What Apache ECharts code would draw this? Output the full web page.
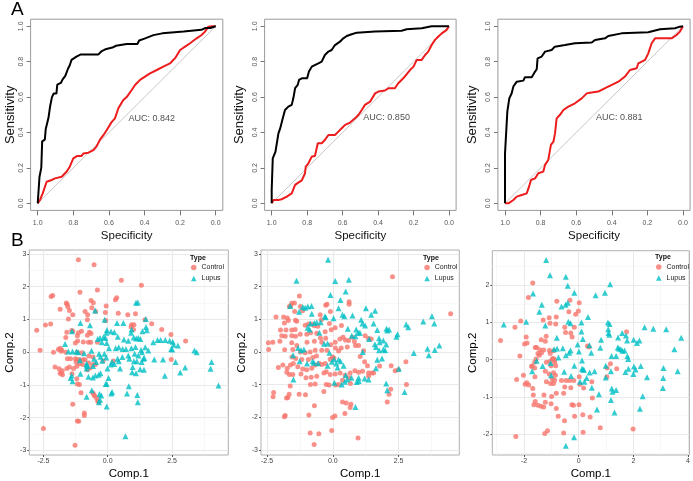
<!DOCTYPE html>
<html><head><meta charset="utf-8">
<script src="https://cdn.jsdelivr.net/npm/echarts@6/dist/echarts.min.js"></script>
<style>html,body{margin:0;padding:0;background:#fff}#c{width:693px;height:481px}</style>
</head><body><div id="c"></div>
<script>
// ---------------- DATA ----------------
const rocTicks = [0, 0.2, 0.4, 0.6, 0.8, 1.0];
const aucLabels = ['AUC: 0.842', 'AUC: 0.850', 'AUC: 0.881'];
const aucAnchor = [[0.49, 0.48], [0.483, 0.485], [0.489, 0.485]];
const chanceLine = [[1, 0], [0, 1]];

// ROC curves: [specificity, sensitivity]
const rocA1Black = [[1,0],[0.995,0.01],[0.99,0.15],[0.98,0.2],[0.975,0.35],[0.96,0.36],[0.955,0.42],[0.94,0.48],[0.93,0.55],[0.92,0.6],[0.91,0.62],[0.895,0.62],[0.89,0.67],[0.87,0.68],[0.86,0.7],[0.845,0.72],[0.83,0.76],[0.82,0.78],[0.81,0.81],[0.795,0.82],[0.78,0.83],[0.76,0.84],[0.66,0.84],[0.64,0.86],[0.62,0.87],[0.58,0.88],[0.56,0.89],[0.5,0.9],[0.44,0.9],[0.43,0.92],[0.4,0.93],[0.35,0.95],[0.3,0.96],[0.18,0.97],[0.18,0.98],[0.08,0.98],[0.06,0.99],[0.03,0.99],[0.02,1],[0,1]];
const rocA1Red = [[1,0],[0.987,0.019],[0.972,0.056],[0.95,0.122],[0.921,0.132],[0.903,0.141],[0.865,0.15],[0.837,0.18],[0.82,0.207],[0.8,0.254],[0.78,0.267],[0.753,0.267],[0.744,0.282],[0.715,0.286],[0.687,0.3],[0.67,0.32],[0.65,0.36],[0.63,0.386],[0.612,0.414],[0.584,0.46],[0.566,0.48],[0.547,0.537],[0.519,0.584],[0.5,0.6],[0.472,0.64],[0.453,0.668],[0.425,0.697],[0.397,0.716],[0.369,0.734],[0.331,0.753],[0.294,0.772],[0.257,0.79],[0.228,0.82],[0.2,0.866],[0.172,0.885],[0.144,0.904],[0.107,0.932],[0.079,0.951],[0.06,0.97],[0.041,0.998],[0.022,1],[0,1]];
const rocA2Black = [[1,0],[1,0.075],[0.994,0.254],[0.985,0.265],[0.979,0.29],[0.962,0.395],[0.953,0.42],[0.94,0.47],[0.925,0.527],[0.906,0.546],[0.887,0.556],[0.878,0.593],[0.868,0.65],[0.853,0.669],[0.846,0.697],[0.83,0.706],[0.8,0.706],[0.79,0.744],[0.774,0.772],[0.765,0.78],[0.737,0.79],[0.718,0.8],[0.7,0.838],[0.68,0.857],[0.662,0.866],[0.643,0.894],[0.615,0.913],[0.596,0.932],[0.577,0.945],[0.549,0.955],[0.52,0.964],[0.417,0.97],[0.267,0.975],[0.239,0.983],[0.154,0.989],[0.098,1],[0,1]];
const rocA2Red = [[1,0],[0.99,0.019],[0.962,0.019],[0.944,0.023],[0.915,0.038],[0.887,0.056],[0.868,0.104],[0.85,0.117],[0.83,0.13],[0.812,0.17],[0.808,0.207],[0.793,0.226],[0.774,0.264],[0.756,0.267],[0.74,0.339],[0.718,0.339],[0.7,0.358],[0.68,0.386],[0.643,0.386],[0.624,0.405],[0.605,0.424],[0.586,0.443],[0.558,0.456],[0.53,0.48],[0.51,0.5],[0.492,0.527],[0.474,0.556],[0.445,0.574],[0.417,0.621],[0.398,0.631],[0.361,0.637],[0.342,0.65],[0.305,0.65],[0.286,0.678],[0.258,0.706],[0.22,0.753],[0.2,0.772],[0.182,0.81],[0.154,0.81],[0.135,0.838],[0.117,0.857],[0.098,0.894],[0.079,0.923],[0.06,0.942],[0.041,0.96],[0.013,0.98],[0,1]];
const rocA3Black = [[1,0],[1,0.282],[0.991,0.282],[0.987,0.518],[0.978,0.525],[0.976,0.593],[0.966,0.6],[0.963,0.62],[0.953,0.66],[0.944,0.668],[0.934,0.687],[0.897,0.693],[0.888,0.712],[0.85,0.712],[0.835,0.738],[0.822,0.757],[0.817,0.819],[0.794,0.829],[0.775,0.857],[0.738,0.866],[0.72,0.885],[0.663,0.894],[0.607,0.904],[0.513,0.908],[0.494,0.923],[0.438,0.932],[0.42,0.945],[0.345,0.96],[0.195,0.966],[0.129,0.983],[0.045,0.989],[0.017,0.998],[0,1]];
const rocA3Red = [[1,0],[0.981,0],[0.953,0.019],[0.934,0.038],[0.906,0.047],[0.878,0.056],[0.865,0.094],[0.854,0.132],[0.831,0.141],[0.813,0.17],[0.785,0.179],[0.775,0.217],[0.757,0.245],[0.742,0.33],[0.728,0.348],[0.719,0.395],[0.71,0.48],[0.691,0.5],[0.672,0.527],[0.644,0.546],[0.607,0.565],[0.569,0.593],[0.541,0.621],[0.522,0.625],[0.476,0.631],[0.429,0.655],[0.4,0.669],[0.363,0.687],[0.326,0.716],[0.298,0.753],[0.26,0.763],[0.251,0.791],[0.213,0.81],[0.195,0.847],[0.176,0.904],[0.157,0.932],[0.064,0.932],[0.036,0.951],[0.017,0.97],[0,1]];

// PCA scores: [Comp.1, Comp.2]
const b1Control = [[-1.14,2.82],[-0.53,2.67],[0.53,2.2],[1.31,2.04],[-0.4,1.9],[-1.08,1.83],[-2.14,1.73],[-2.2,1.7],[0.35,1.66],[0.3,1.6],[-0.65,1.58],[-0.56,1.51],[-1.61,1.5],[-1.58,1.46],[-1.55,1.39],[-0.06,1.41],[-0.62,1.36],[-1.85,1.31],[-1.49,1.27],[-0.88,1.24],[-0.47,1.24],[-0.09,1.21],[0.41,1.19],[0.78,1.14],[1.08,1.17],[-1.36,1.14],[-0.78,1.14],[-1.53,1.01],[-0.79,0.99],[1.45,0.99],[1.71,0.87],[-2.76,0.67],[-2.42,0.83],[-2.22,0.86],[-0.08,0.97],[0.93,0.84],[0.91,0.77],[1.02,0.84],[1.0,0.69],[-1.02,0.64],[-1.36,0.64],[-1.4,0.66],[-1.59,0.61],[-1.14,0.59],[-0.65,0.57],[-0.71,0.61],[2.1,0.69],[2.46,0.54],[3.03,0.34],[-1.18,0.5],[-0.79,0.52],[-1.63,0.45],[-1.17,0.34],[-0.95,0.31],[-0.75,0.3],[-0.66,0.3],[-0.4,0.3],[-1.26,0.28],[-1.85,0.12],[-1.79,0.07],[-1.92,0.08],[-1.81,0.03],[-2.63,0.06],[-1.63,0],[-2.11,0],[-1.18,0],[-1.0,-0.02],[-1.57,-0.2],[-1.45,-0.2],[-1.26,-0.2],[-1.18,-0.22],[-1.08,-0.23],[-0.96,-0.23],[-0.88,-0.23],[-1.23,-0.3],[-1.1,-0.35],[-0.74,-0.33],[-0.97,-0.38],[-1.2,-0.43],[-1.49,-0.45],[-2.05,-0.45],[-1.89,-0.51],[-1.59,-0.5],[-1.33,-0.5],[-1.77,-0.57],[-1.81,-0.64],[-1.76,-0.69],[-1.85,-0.64],[-0.79,-0.54],[-0.69,-0.48],[-0.57,-0.38],[-0.48,-0.38],[0.22,-0.27],[-0.73,-0.12],[-0.57,-0.15],[-1.39,-0.66],[-1.2,-0.81],[-1.1,-0.99],[-1.18,-0.97],[-1.04,-1.24],[-0.58,-1.24],[-0.54,-1.29],[-0.51,-1.34],[-0.43,-1.41],[-0.39,-1.49],[-0.35,-1.53],[-1.36,-1.59],[-0.91,-1.86],[-0.91,-1.93],[-1.18,-2.1],[-1.13,-2.11],[-2.5,-2.33],[-1.27,-2.84],[2.47,-0.22],[-0.18,-0.26]];
const b1Lupus = [[-0.49,1.27],[1.1,1.51],[1.17,1.52],[1.48,1.01],[-1.06,0.89],[-0.69,0.82],[-0.12,0.99],[-1.39,0.64],[-1.66,0.25],[-1.37,0.02],[-1.22,0.02],[-1.53,0.02],[-1.44,-0.79],[-1.37,-0.89],[-1.4,-0.71],[-1.15,0],[-0.92,-0.03],[-0.63,0.04],[-1.08,-0.25],[-0.82,-0.35],[-0.82,-0.5],[-0.79,-0.42],[-0.53,-0.2],[-0.45,-0.3],[-0.39,0.4],[-0.3,0.43],[-0.16,0.46],[-0.09,0.43],[-0.05,0.59],[-0.03,0.68],[0.13,0.63],[0.26,0.61],[0.39,0.47],[0.63,0.39],[0.8,0.35],[1.01,0.45],[1.11,0.42],[1.19,0.43],[1.27,0.4],[1.35,0.64],[1.49,0.77],[1.52,0.67],[0.61,0.89],[0.36,0.89],[0.93,0.69],[0.91,0.59],[-0.23,0.3],[-0.04,0.28],[0.05,0.12],[0.31,0.12],[0.43,0.15],[0.58,0.1],[0.71,0.1],[0.92,0.12],[1.08,0.16],[1.3,0.07],[1.46,0.15],[1.77,0.3],[1.94,0.37],[2.06,0.37],[2.24,0.37],[2.41,0.35],[2.53,0.32],[2.56,0.23],[2.47,0.1],[2.51,0.08],[2.73,0.2],[1.81,-0.22],[2.15,-0.22],[2.64,-0.3],[3.01,-0.47],[3.37,0.05],[3.46,0],[4.04,-0.3],[4.0,-0.51],[4.31,-1.02],[2.22,-0.72],[2.82,-0.62],[0.8,-0.1],[0.84,-0.2],[0.57,-0.15],[0.38,-0.2],[0.17,-0.3],[0.25,-0.36],[-0.06,-0.16],[-0.13,-0.05],[-0.34,-0.05],[-0.28,-0.14],[-0.21,-0.26],[0.12,-0.38],[-0.01,-0.5],[-0.28,-0.64],[-0.35,-0.69],[-0.48,-0.71],[-0.57,-0.42],[-0.82,-0.4],[-1.06,-0.66],[-0.75,-0.75],[-0.58,-0.77],[-0.08,-0.97],[0.03,-0.79],[-0.04,-0.97],[-0.62,-1.16],[-0.32,-1.28],[-0.25,-1.32],[0.17,-1.22],[0.14,-1.26],[-0.34,-1.53],[-0.3,-1.45],[0.82,-1.04],[0.75,-1.26],[1.15,-1.31],[1.17,-1.53],[-0.82,-1.36],[-0.04,-1.66],[0.69,-2.57],[1.05,-0.05],[1.13,-0.28],[1.33,0],[1.32,-0.3],[1.39,-0.2],[1.41,-0.54],[1.26,-0.52],[1.1,-0.64],[0.97,-0.45],[0.95,-0.61],[1.19,-0.1],[1.58,0.05],[1.42,-0.18],[1.02,-0.28],[0.43,-0.28],[0.48,-0.5]];
const b2Control = [[2.27,2.3],[4.48,1.17],[-1.27,1.71],[-1.46,1.5],[-1.56,1.49],[-1.6,1.41],[-1.65,1.39],[-1.45,1.24],[-1.23,1.39],[-1.15,1.26],[-0.27,1.43],[-0.22,1.46],[-0.09,1.24],[0.62,1.54],[0.62,1.46],[-0.48,1.14],[-0.44,0.99],[-1.42,0.97],[-1.37,0.94],[-1.69,0.96],[-1.84,0.89],[-1.99,0.67],[-1.78,0.67],[-1.56,0.67],[-1.43,0.69],[-1.05,0.82],[-0.93,0.86],[-0.8,0.86],[-0.7,0.8],[-0.57,0.79],[-0.29,0.62],[-0.61,0.57],[-0.84,0.59],[-0.99,0.54],[-1.24,0.54],[-1.42,0.48],[-1.56,0.5],[-1.81,0.48],[-1.94,0.5],[-2.16,1.07],[-1.87,1.07],[-1.73,1.04],[-2.45,0.28],[-2.28,0.3],[-2.01,0.33],[-1.56,0.28],[-1.37,0.2],[-0.98,0.3],[-0.7,0.33],[-0.47,0.43],[-0.27,0.42],[-0.42,0.3],[-0.08,0.22],[0.09,0.3],[0.27,0.4],[0.39,0.45],[0.48,0.37],[0.6,0.35],[0.74,0.45],[0.82,0.32],[0.86,0.2],[0.55,0.15],[0.32,0.12],[0.22,0.03],[0.1,0.12],[-2.44,0.08],[-1.83,0.07],[-1.52,0.08],[-1.23,0],[-1.05,-0.02],[-0.86,0],[-0.67,0.05],[-0.42,0.05],[-0.22,0.05],[-0.01,-0.15],[0.04,-0.18],[-0.1,-0.22],[-0.29,-0.35],[-0.42,-0.38],[-0.52,-0.35],[-0.67,-0.4],[-0.8,-0.5],[-0.99,-0.54],[-1.14,-0.52],[-1.33,-0.45],[-1.5,-0.35],[-1.61,-0.4],[-1.73,-0.5],[-1.55,-0.15],[-1.41,-0.2],[-1.18,-0.23],[-0.93,-0.23],[-0.76,-0.17],[-0.62,-0.12],[-2.07,-0.47],[-1.9,-0.4],[-1.75,-0.62],[-1.65,-0.69],[-1.52,-0.69],[-1.21,-0.67],[-1.02,-0.79],[-0.82,-0.77],[-0.61,-0.74],[-0.34,-0.64],[-0.25,-0.6],[-0.1,-0.69],[0.09,-0.67],[0.28,-0.64],[0.47,-0.71],[0.66,-0.64],[0.84,-0.57],[0.98,-0.62],[1.13,-0.59],[1.36,-0.64],[1.55,-0.64],[1.78,-0.43],[2.22,-0.42],[2.37,-0.57],[2.49,-0.54],[2.78,-0.3],[2.8,-0.99],[2.2,-1.14],[2.14,-1.29],[2.07,-1.53],[0.62,-0.79],[0.67,-0.96],[0.37,-0.86],[0.23,-0.99],[0.11,-1.01],[-0.14,-1.01],[-0.25,-0.99],[-0.34,-1.21],[-0.67,-0.98],[-0.85,-0.99],[-1.04,-1.31],[-1.28,-1.29],[-1.62,-1.04],[-1.66,-1.29],[-2.25,-1.24],[-2.27,-1.37],[-1.76,-1.41],[-1.71,-1.39],[-1.81,-1.94],[-1.84,-1.98],[-0.91,-1.93],[0.37,-1.53],[0.51,-1.56],[0.69,-1.6],[0.66,-1.7],[0.46,-1.88],[0.08,-1.96],[-0.01,-2.0],[-0.04,-2.4],[-0.7,-1.64],[-0.53,-2.5],[-0.86,-2.48],[-0.71,-2.83],[0.96,-2.63],[1.36,-0.74],[1.48,-0.64],[1.32,-0.42],[1.21,-0.3],[1.04,-0.14],[1.17,0.04],[0.98,0.2],[1.36,0.41],[1.46,0.4],[1.23,0.5],[0.33,0.81],[0.09,0.74],[-0.06,0.68],[-0.13,0.87]];
const b2Lupus = [[-0.18,2.82],[-1.38,2.18],[0.61,2.21],[0.09,2.17],[0.49,1.85],[0.29,1.59],[-0.09,1.74],[0.22,1.34],[0.37,1.14],[0.44,1.09],[0.75,1.12],[1.08,0.99],[1.13,0.87],[1.46,1.14],[1.55,0.87],[1.61,1.26],[1.26,1.34],[0.89,0.69],[0.72,0.5],[0.86,0.48],[1.03,0.59],[1.23,0.81],[1.38,0.4],[1.69,0.67],[1.76,0.42],[2.04,0.71],[2.07,0.66],[2.14,0.69],[2.46,0.54],[2.42,0.47],[2.79,0.84],[2.87,0.76],[3.44,0.93],[3.77,1.09],[3.86,0.87],[3.08,-0.03],[3.6,0.1],[3.65,-0.1],[3.88,0.06],[4.05,0.2],[2.03,0.23],[1.64,0.15],[1.76,0.05],[1.92,0.08],[1.99,0.05],[1.87,-0.2],[1.69,-0.24],[1.64,-0.5],[2.07,-1.17],[2.03,-0.96],[2.51,-0.51],[2.73,-1.22],[0.86,-1.68],[0.34,-0.99],[0.46,-0.91],[0.55,-0.84],[0.06,-0.94],[0.13,-0.35],[0.18,-0.47],[0.41,-0.42],[0.29,-0.28],[0.05,-0.22],[0.22,-0.23],[-0.13,-0.02],[-0.04,-0.3],[-0.2,-0.42],[-0.72,-0.33],[-0.56,-0.34],[-1.5,-0.84],[-1.21,0.05],[-1.1,0.08],[-1.32,0.12],[-1.51,-0.1],[-1.62,1.41],[-1.28,1.23],[-1.14,1.38],[-0.95,1.39],[-0.81,1.41],[-1.05,1.35],[-0.8,1.17],[-0.46,0.91],[-0.61,0.91],[-0.27,1.06],[-0.3,1.09],[-0.88,0.69],[-0.33,0.25],[-0.2,0.26],[0.57,0.71],[0.03,1.03],[1.14,0],[1.6,0.24],[1.78,0.3],[1.92,0.35],[-0.98,-0.35],[-0.77,-0.28],[-1.26,-0.28],[0.98,-0.79],[0.91,-0.92],[0.71,-0.79],[0.99,-0.89],[1.21,-0.81],[1.36,-0.84],[0.49,-0.71],[-0.7,0.89],[-0.51,0.59],[-0.96,0.74],[-0.86,0.87],[0.96,0.59]];
const b3Control = [[-1.68,2.06],[-1.84,1.67],[-0.8,1.57],[-0.32,1.6],[0.02,1.53],[-0.01,1.31],[-0.11,1.22],[-0.36,1.29],[-2.12,1.04],[-2.33,0.87],[-1.3,1.07],[-1.08,1.13],[-0.82,1.15],[-1.05,0.98],[-0.84,0.96],[-0.51,0.87],[-0.16,0.87],[-0.48,0.73],[-0.24,0.61],[-1.19,0.63],[-1.22,0.5],[-2.86,0.52],[-1.98,0.42],[-1.59,0.33],[-1.54,0.33],[-1.42,0.27],[-1.28,0.26],[-1.07,0.25],[-0.92,0.24],[-1.36,0.19],[-1.49,0.17],[-1.44,0.12],[-1.04,0.17],[-0.93,0.03],[-0.88,0],[-0.97,0.02],[-0.88,-0.07],[-2.15,0.1],[-1.56,0.02],[-1.61,-0.07],[-1.71,-0.17],[-1.18,-0.07],[-1.05,-0.05],[-1.01,-0.16],[-0.84,-0.16],[-1.22,-0.31],[-1.08,-0.38],[-0.92,-0.35],[-0.85,-0.42],[-0.88,-0.55],[-0.97,-0.51],[-1.18,-0.59],[-1.03,-0.64],[-0.92,-0.64],[-1.61,-0.22],[-1.72,-0.18],[-2.02,-0.42],[-1.6,-0.46],[-1.9,-0.62],[-1.83,-0.68],[-1.96,-0.66],[-2.27,-0.53],[-0.18,-0.56],[0.02,-0.46],[-0.33,-0.56],[-0.46,-0.56],[-0.63,-0.56],[-1.68,-0.77],[-1.27,-0.95],[-0.99,-0.99],[-0.82,-0.9],[-0.55,-0.9],[-0.51,-0.73],[-0.29,-0.75],[0.04,-0.66],[0.18,-0.76],[0.48,-0.59],[-1.66,-0.95],[-1.59,-1.12],[-1.64,-1.21],[-1.49,-1.22],[-1.38,-1.25],[-1.28,-1.27],[-1.22,-1.14],[-1.01,-1.18],[-0.82,-1.31],[-0.25,-1.21],[-0.19,-1.22],[0.01,-1.21],[-0.75,-1.52],[-0.52,-1.64],[-0.15,-1.52],[0.15,-1.48],[0.42,-1.54],[0.5,-1.03],[0.79,-1.83],[1.04,-0.22],[1.16,-0.11],[1.03,-0.46],[1.39,-0.24],[1.75,0.75],[1.99,-1.86],[-2.3,-2.06],[-1.24,-1.98],[-1.14,-1.91],[-0.55,-1.97],[0.16,-1.95],[-0.29,0.72],[0.32,0.37],[0.38,0.34],[-1.37,0.54],[-1.92,0.61],[-1.89,0.45]];
const b3Lupus = [[-1.19,2.68],[-1.05,2.27],[-0.47,2.23],[-0.4,1.99],[-0.16,1.8],[1.15,2.03],[0.96,1.8],[0.62,1.73],[-1.67,1.78],[-1.35,1.48],[-1.44,1.29],[-0.63,1.43],[-0.48,1.48],[-0.4,1.53],[-0.38,1.02],[-0.3,0.98],[0.1,1.0],[0.34,1.15],[-2.74,0.95],[-1.92,1.02],[-1.22,0.92],[1.07,1.0],[1.13,0.96],[1.08,0.82],[1.09,0.72],[1.12,0.67],[1.44,0.6],[1.59,0.72],[1.73,0.65],[1.77,0.52],[2.01,0.54],[2.22,0.52],[2.41,0.87],[2.73,0.83],[3.2,0.82],[3.75,0.59],[3.5,0.28],[2.13,0.45],[1.43,0.33],[1.47,0.3],[1.54,0.28],[1.6,0.24],[1.68,0.25],[1.78,0.1],[1.81,0.02],[1.37,0.1],[1.2,0.1],[0.79,0.32],[0.82,0.54],[0.39,0.39],[0.46,0.19],[0.15,0.56],[-0.04,0.41],[-0.8,0.59],[-0.79,0.3],[-0.9,0.28],[-0.74,0.06],[-1.03,-0.09],[-1.32,-0.17],[-1.54,-0.03],[-1.7,-0.31],[0.12,-0.02],[0.12,-0.24],[0.16,-0.26],[0.19,-0.27],[0.4,-0.34],[0.58,-0.31],[0.99,-0.16],[0.99,-0.48],[1.18,-0.31],[1.21,-0.77],[1.24,-0.86],[1.37,-0.81],[1.71,-0.33],[1.82,-0.24],[2.02,-0.18],[2.08,-0.26],[2.0,-0.38],[2.27,-0.17],[2.5,-0.47],[2.34,-0.98],[2.24,-1.32],[3.1,-0.22],[3.09,-0.49],[3.08,-0.76],[3.62,-0.31],[-0.28,-0.44],[-0.53,-0.32],[-1.01,-0.42],[0.05,-0.59],[0.21,-0.59],[0.48,-0.75],[0.67,-1.34],[1.18,-1.08],[1.31,-1.42],[0.29,-0.49],[0.74,-0.93],[-0.17,-2.08],[-0.47,-2.31],[-0.47,0.12],[-0.3,0.25],[0.1,0.76],[0.01,0.22],[-0.35,0.19],[-0.16,-0.16],[-0.58,0.31]];

const pcaXTicks = [[-2.5, 0, 2.5], [-2.5, 0, 2.5], [-2, 0, 2, 4]];
const pcaYTicks = [[-3,-2,-1,0,1,2,3], [-3,-2,-1,0,1,2,3], [-2,-1,0,1,2]];
const pcaXMinor = [[-1.25, 1.25, 3.75], [-1.25, 1.25, 3.75], [-3, -1, 1, 3]];
const pcaYMinor = [[-2.5,-1.5,-0.5,0.5,1.5,2.5], [-2.5,-1.5,-0.5,0.5,1.5,2.5], [-2.5,-1.5,-0.5,0.5,1.5,2.5]];
const pcaXRange = [[-3.05, 4.69], [-2.73, 4.81], [-3.16, 4.05]];
const pcaYRange = [[-3.14, 3.12], [-3.15, 3.12], [-2.56, 2.93]];

// ---------------- LAYOUT / STYLE ----------------
const FONT = '"Liberation Sans", Arial, Helvetica, sans-serif';
const rocBoxes = [
  {left: 30.6, top: 19.2, width: 192.2, height: 191.2, yGap: 10},
  {left: 264.6, top: 19.2, width: 191.5, height: 191.2, yGap: 19},
  {left: 497.9, top: 19.2, width: 192.2, height: 191.2, yGap: 19}
];
const pcaBoxes = [
  {left: 29.3, top: 250, width: 199, height: 210.7, yGap: 11},
  {left: 261, top: 250, width: 198.3, height: 210.7, yGap: 12},
  {left: 492.3, top: 250.7, width: 198.4, height: 209.3, yGap: 10}
];
const legendPos = [[191, 264], [424.3, 264], [656, 263.5]];
const legendTitlePos = [[190, 254.5], [423, 254.5], [655, 253.5]];
const rocCurves = [[rocA1Black, rocA1Red], [rocA2Black, rocA2Red], [rocA3Black, rocA3Red]];
const pcaSets = [[b1Control, b1Lupus], [b2Control, b2Lupus], [b3Control, b3Lupus]];

const grid = [], xAxis = [], yAxis = [], series = [];

rocBoxes.forEach((b, i) => {
  grid.push({left: b.left, top: b.top, width: b.width, height: b.height, show: true,
    borderColor: '#9a9a9a', borderWidth: 1, backgroundColor: 'transparent', containLabel: false});
  xAxis.push({gridIndex: i, type: 'value', inverse: true, min: -0.04, max: 1.04, position: 'bottom',
    axisLine: {show: false, onZero: false}, splitLine: {show: false},
    axisTick: {show: true, customValues: rocTicks, length: 5, lineStyle: {color: '#777'}},
    axisLabel: {customValues: rocTicks, formatter: v => v.toFixed(1), fontSize: 7, color: '#555', margin: 9, fontFamily: FONT},
    name: 'Specificity', nameLocation: 'middle', nameGap: 19,
    nameTextStyle: {fontSize: 11.5, color: '#111', fontFamily: FONT}});
  yAxis.push({gridIndex: i, type: 'value', min: -0.04, max: 1.04, position: 'left',
    axisLine: {show: false, onZero: false}, splitLine: {show: false},
    axisTick: {show: true, customValues: rocTicks, length: 4, lineStyle: {color: '#777'}},
    axisLabel: {customValues: rocTicks, formatter: v => v.toFixed(1), fontSize: 7, color: '#555', margin: 6, rotate: 90, fontFamily: FONT},
    name: 'Sensitivity', nameLocation: 'middle', nameGap: b.yGap,
    nameTextStyle: {fontSize: 13, color: '#111', fontFamily: FONT}});
  series.push({type: 'line', xAxisIndex: i, yAxisIndex: i, data: chanceLine, symbol: 'none',
    lineStyle: {color: '#c9c9c9', width: 1}, z: 1, silent: true});
  series.push({type: 'line', xAxisIndex: i, yAxisIndex: i, data: rocCurves[i][1], symbol: 'none',
    lineStyle: {color: '#ee1c1c', width: 2}, z: 2, silent: true});
  series.push({type: 'line', xAxisIndex: i, yAxisIndex: i, data: rocCurves[i][0], symbol: 'none',
    lineStyle: {color: '#000', width: 2}, z: 3, silent: true});
  series.push({type: 'scatter', xAxisIndex: i, yAxisIndex: i, data: [aucAnchor[i]], symbolSize: 0, silent: true,
    label: {show: true, position: 'right', distance: 0, formatter: aucLabels[i], fontSize: 9, color: '#222', fontFamily: FONT}});
});

pcaBoxes.forEach((b, k) => {
  const i = k + 3;
  grid.push({left: b.left, top: b.top, width: b.width, height: b.height, show: true,
    borderColor: '#b0b0b0', borderWidth: 1, backgroundColor: '#fff'});
  xAxis.push({gridIndex: i, type: 'value', min: pcaXRange[k][0], max: pcaXRange[k][1], position: 'bottom',
    axisLine: {show: false, onZero: false}, splitLine: {show: false},
    axisTick: {show: true, customValues: pcaXTicks[k], length: 2, lineStyle: {color: '#555'}},
    axisLabel: {customValues: pcaXTicks[k], formatter: v => (k < 2 ? v.toFixed(1) : String(v)), fontSize: 7, color: '#444', margin: 3, fontFamily: FONT},
    name: 'Comp.1', nameLocation: 'middle', nameGap: 13,
    nameTextStyle: {fontSize: 11.5, color: '#000', fontFamily: FONT}});
  yAxis.push({gridIndex: i, type: 'value', min: pcaYRange[k][0], max: pcaYRange[k][1], position: 'left',
    axisLine: {show: false, onZero: false}, splitLine: {show: false},
    axisTick: {show: true, customValues: pcaYTicks[k], length: 2, lineStyle: {color: '#555'}},
    axisLabel: {customValues: pcaYTicks[k], fontSize: 7, color: '#444', margin: 3, fontFamily: FONT},
    name: 'Comp.2', nameLocation: 'middle', nameGap: b.yGap,
    nameTextStyle: {fontSize: 11.5, color: '#000', fontFamily: FONT}});
  const ml = [];
  pcaXMinor[k].forEach(v => ml.push({xAxis: v, lineStyle: {color: '#f4f4f4', width: 0.6}}));
  pcaYMinor[k].forEach(v => ml.push({yAxis: v, lineStyle: {color: '#f4f4f4', width: 0.6}}));
  pcaXTicks[k].forEach(v => ml.push({xAxis: v, lineStyle: {color: '#e9e9e9', width: 1}}));
  pcaYTicks[k].forEach(v => ml.push({yAxis: v, lineStyle: {color: '#e9e9e9', width: 1}}));
  series.push({type: 'scatter', name: 'grid' + k, xAxisIndex: i, yAxisIndex: i, data: [], silent: true,
    markLine: {silent: true, z: 1, symbol: 'none', animation: false, label: {show: false},
      lineStyle: {type: 'solid'}, data: ml}});
  series.push({type: 'scatter', name: 'Control', xAxisIndex: i, yAxisIndex: i, data: pcaSets[k][0],
    symbol: 'circle', symbolSize: 5, itemStyle: {color: '#F8766D'}, z: 3});
  series.push({type: 'scatter', name: 'Lupus', xAxisIndex: i, yAxisIndex: i, data: pcaSets[k][1],
    symbol: 'triangle', symbolSize: 6, itemStyle: {color: '#00BFC4'}, z: 3});
});

const title = [
  {text: 'A', left: 11, top: 0, padding: 0, textStyle: {fontSize: 19, fontWeight: 'normal', color: '#000', fontFamily: FONT}},
  {text: 'B', left: 11, top: 231, padding: 0, textStyle: {fontSize: 19, fontWeight: 'normal', color: '#000', fontFamily: FONT}}
];
legendTitlePos.forEach(p => title.push({text: 'Type', left: p[0], top: p[1], padding: 0,
  textStyle: {fontSize: 7, fontWeight: 'bold', color: '#111', fontFamily: FONT}}));

const legend = legendPos.map(p => ({left: p[0], top: p[1], orient: 'vertical', padding: 0,
  itemWidth: 5.5, itemHeight: 5.5, itemGap: 4, selectedMode: false,
  data: [{name: 'Control', icon: 'circle'}, {name: 'Lupus', icon: 'triangle'}],
  textStyle: {fontSize: 7, color: '#222', fontFamily: FONT}}));

const chart = echarts.init(document.getElementById('c'), null, {renderer: 'canvas'});
chart.setOption({animation: false, backgroundColor: '#fff', title, legend, grid, xAxis, yAxis, series});
</script>
</body></html>
